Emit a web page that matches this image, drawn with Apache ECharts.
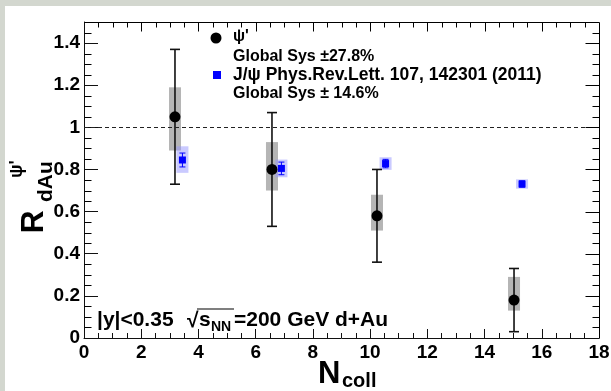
<!DOCTYPE html>
<html><head><meta charset="utf-8">
<script src="https://cdn.jsdelivr.net/npm/echarts@6/dist/echarts.min.js"></script>
<style>html,body{margin:0;padding:0;background:#ffffff;overflow:hidden}
#wrap{position:relative;width:611px;height:391px;background:#d3d7cf}
#c{position:absolute;left:5px;top:6px;width:606px;height:385px;background:#fff}</style>
</head><body><div id="wrap"><div id="c"></div></div><script>
// psi(2S) data
const nCollPsi  = [3.18, 6.57, 10.24, 15.03];
const rPsi      = [1.05, 0.80, 0.58, 0.18];
const psiStatLo = [0.73, 0.53, 0.36, 0.03];
const psiStatHi = [1.37, 1.07, 0.80, 0.33];
const psiSysLo  = [0.89, 0.70, 0.51, 0.13];
const psiSysHi  = [1.19, 0.93, 0.68, 0.29];
// J/psi data (PRL 107, 142301)
const nCollJpsi  = [3.44, 6.90, 10.54, 15.31];
const rJpsi      = [0.845, 0.805, 0.828, 0.731];
const jpsiStatLo = [0.812, 0.775, 0.808, 0.716];
const jpsiStatHi = [0.878, 0.835, 0.848, 0.746];
const jpsiSysLo  = [0.784, 0.763, 0.798, 0.709];
const jpsiSysHi  = [0.910, 0.847, 0.858, 0.753];
// axis ticks
const xTickValues = [0, 2, 4, 6, 8, 10, 12, 14, 16, 18];
const yTickValues = [0, 0.2, 0.4, 0.6, 0.8, 1, 1.2, 1.4];
const yTickLabels = ['0', '0.2', '0.4', '0.6', '0.8', '1', '1.2', '1.4'];
const X_MIN = 0, X_MAX = 18, X_MINOR = 0.5;
const Y_MIN = 0, Y_MAX = 1.5, Y_MINOR = 0.05;
const refLine = 1;

const FONT = '"Liberation Sans", Arial, Helvetica, sans-serif';
const OX = -5, OY = -6; // chart div offset inside the grey border
const chart = echarts.init(document.getElementById('c'), null, {renderer: 'canvas'});

function boxRender(color, hw) {
  return function (params, api) {
    const x = api.value(0), lo = api.value(1), hi = api.value(2);
    const p1 = api.coord([x - hw, hi]);
    const p2 = api.coord([x + hw, lo]);
    return {type: 'rect', shape: {x: p1[0], y: p1[1], width: p2[0] - p1[0], height: p2[1] - p1[1]},
      style: {fill: color}};
  };
}
function errRender(color, lw, cap) {
  return function (params, api) {
    const x = api.value(0), lo = api.value(1), hi = api.value(2);
    const t = api.coord([x, hi]), b = api.coord([x, lo]);
    const st = {stroke: color, lineWidth: lw};
    return {type: 'group', children: [
      {type: 'line', shape: {x1: t[0], y1: t[1], x2: b[0], y2: b[1]}, style: st},
      {type: 'line', shape: {x1: t[0] - cap, y1: t[1], x2: t[0] + cap, y2: t[1]}, style: st},
      {type: 'line', shape: {x1: b[0] - cap, y1: b[1], x2: b[0] + cap, y2: b[1]}, style: st}
    ]};
  };
}
const zip3 = (a, b, c) => a.map((v, i) => [v, b[i], c[i]]);
const zip2 = (a, b) => a.map((v, i) => [v, b[i]]);

const txt = (x, y, s, size) => ({type: 'text', x: x + OX, y: y + OY, z: 100,
  style: {text: s, font: 'bold ' + size + 'px ' + FONT, fill: '#000',
    align: 'left', verticalAlign: 'middle', textAlign: 'left', textVerticalAlign: 'middle'}});

const option = {
  backgroundColor: '#ffffff',
  animation: false,
  grid: {left: 84 + OX, right: 12, top: 22 + OY, bottom: 53, containLabel: false, outerBoundsMode: 'none'},
  xAxis: {type: 'value', min: X_MIN, max: X_MAX, interval: 2,
    axisLine: {show: true, onZero: false, lineStyle: {color: '#111', width: 1}},
    axisTick: {show: true, inside: true, length: 9, lineStyle: {color: '#111', width: 1}},
    minorTick: {show: true, splitNumber: 4, length: 5, lineStyle: {color: '#111', width: 1}},
    splitLine: {show: false}, minorSplitLine: {show: false},
    axisLabel: {fontSize: 19, fontWeight: 'bold', color: '#000', fontFamily: FONT, margin: 5,
      formatter: v => xTickValues.indexOf(v) >= 0 ? String(v) : ''}},
  yAxis: {type: 'value', min: Y_MIN, max: Y_MAX, interval: 0.2,
    axisLine: {show: true, onZero: false, lineStyle: {color: '#111', width: 1}},
    axisTick: {show: true, inside: true, length: 14, lineStyle: {color: '#111', width: 1}},
    splitLine: {show: false},
    axisLabel: {fontSize: 19, fontWeight: 'bold', color: '#000', fontFamily: FONT, margin: 4,
      formatter: v => { const i = yTickValues.findIndex(t => Math.abs(t - v) < 1e-6); return i >= 0 ? yTickLabels[i] : ''; }}},
  series: [
    {type: 'custom', name: 'psiSys', z: 2, renderItem: boxRender('rgba(120,120,120,0.55)', 0.21),
      encode: {x: 0, y: [1, 2]}, data: zip3(nCollPsi, psiSysLo, psiSysHi), silent: true},
    {type: 'custom', name: 'jpsiSys', z: 2, renderItem: boxRender('rgba(150,150,255,0.5)', 0.21),
      encode: {x: 0, y: [1, 2]}, data: zip3(nCollJpsi, jpsiSysLo, jpsiSysHi), silent: true},
    {type: 'custom', name: 'psiStat', z: 3, renderItem: errRender('#111', 1.6, 5),
      encode: {x: 0, y: [1, 2]}, data: zip3(nCollPsi, psiStatLo, psiStatHi), silent: true},
    {type: 'custom', name: 'jpsiStat', z: 3, renderItem: errRender('#0000ff', 1, 3),
      encode: {x: 0, y: [1, 2]}, data: zip3(nCollJpsi, jpsiStatLo, jpsiStatHi), silent: true},
    {type: 'scatter', name: "ψ'", z: 4, symbol: 'circle', symbolSize: 11,
      itemStyle: {color: '#000', opacity: 1}, data: zip2(nCollPsi, rPsi), silent: true,
      markLine: {silent: true, symbol: 'none', label: {show: false},
        lineStyle: {type: [4, 3], color: '#222', width: 1}, data: [{yAxis: refLine}]}},
    {type: 'scatter', name: 'J/ψ', z: 4, symbol: 'rect', symbolSize: [7, 7],
      itemStyle: {color: '#0000ff', opacity: 1}, data: zip2(nCollJpsi, rJpsi), silent: true}
  ]
};
chart.setOption(option);

// Frame and the top / right / left-minor ticks, positioned through the chart's own axis scales
const px = (x, y) => chart.convertToPixel({gridIndex: 0}, [x, y]);
const frame = [];
const st = {stroke: '#000', lineWidth: 1};
const snap = v => Math.round(v) + 0.5;
const TL = px(X_MIN, Y_MAX), TR = px(X_MAX, Y_MAX), BR = px(X_MAX, Y_MIN);
frame.push({type: 'line', z: 50, silent: true, shape: {x1: snap(TL[0]), y1: snap(TL[1]), x2: snap(TR[0]), y2: snap(TR[1])}, style: st});
frame.push({type: 'line', z: 50, silent: true, shape: {x1: snap(TR[0]), y1: snap(TR[1]), x2: snap(BR[0]), y2: snap(BR[1])}, style: st});
const isMajorY = v => yTickValues.some(t => Math.abs(t - v) < 1e-6);
const isMajorX = v => xTickValues.some(t => Math.abs(t - v) < 1e-6);
const nY = Math.round((Y_MAX - Y_MIN) / Y_MINOR);
for (let i = 1; i < nY; i++) {
  const v = Y_MIN + i * Y_MINOR;
  const L = px(X_MIN, v), R = px(X_MAX, v);
  const len = isMajorY(v) ? 14 : 7;
  if (!isMajorY(v)) frame.push({type: 'line', z: 50, silent: true, shape: {x1: snap(L[0]), y1: snap(L[1]), x2: snap(L[0]) + len, y2: snap(L[1])}, style: st});
  frame.push({type: 'line', z: 50, silent: true, shape: {x1: snap(R[0]), y1: snap(R[1]), x2: snap(R[0]) - len, y2: snap(R[1])}, style: st});
}
const nX = Math.round((X_MAX - X_MIN) / X_MINOR);
for (let i = 1; i < nX; i++) {
  const v = X_MIN + i * X_MINOR;
  const T = px(v, Y_MAX);
  const len = isMajorX(v) ? 9 : 5;
  frame.push({type: 'line', z: 50, silent: true, shape: {x1: snap(T[0]), y1: snap(T[1]), x2: snap(T[0]), y2: snap(T[1]) + len}, style: st});
}

const labels = [
  // y-axis title
  {type: 'group', x: 34 + OX, y: 222 + OY, rotation: Math.PI / 2, z: 100, children: [
    {type: 'text', x: 0, y: 0, style: {text: 'R', font: 'bold 32px ' + FONT, fill: '#000', align: 'center', verticalAlign: 'middle', textAlign: 'center', textVerticalAlign: 'middle'}},
    {type: 'text', x: 20, y: 12, style: {text: 'dAu', font: 'bold 21px ' + FONT, fill: '#000', align: 'left', verticalAlign: 'middle', textAlign: 'left', textVerticalAlign: 'middle'}},
    {type: 'text', x: 44, y: -17, style: {text: 'ψ\'', font: 'bold 18px ' + FONT, fill: '#000', align: 'left', verticalAlign: 'middle', textAlign: 'left', textVerticalAlign: 'middle'}}
  ]},
  // x-axis title
  txt(318, 374, 'N', 31),
  txt(342, 381, 'coll', 20),
  // legend
  {type: 'circle', z: 100, shape: {cx: 216 + OX, cy: 38 + OY, r: 5.5}, style: {fill: '#000'}},
  txt(233, 37, 'ψ\'', 16),
  txt(233, 57, 'Global Sys ±27.8%', 16),
  {type: 'rect', z: 100, shape: {x: 213 + OX, y: 71 + OY, width: 8, height: 8}, style: {fill: '#0000ff'}},
  txt(233, 75, 'J/ψ Phys.Rev.Lett. 107, 142301 (2011)', 17.5),
  txt(233, 94, 'Global Sys ± 14.6%', 16),
  // kinematic annotation
  txt(97, 320, '|y|<0.35', 21),
  txt(187, 321, '√', 21),
  {type: 'line', z: 100, shape: {x1: 197 + OX, y1: 309 + OY, x2: 234 + OX, y2: 309 + OY}, style: {stroke: '#000', lineWidth: 1.2}},
  txt(199, 320, 's', 21),
  txt(211, 327, 'NN', 14),
  txt(234, 320, '=200 GeV d+Au', 21)
];
chart.setOption({graphic: frame.concat(labels)});
</script></body></html>
